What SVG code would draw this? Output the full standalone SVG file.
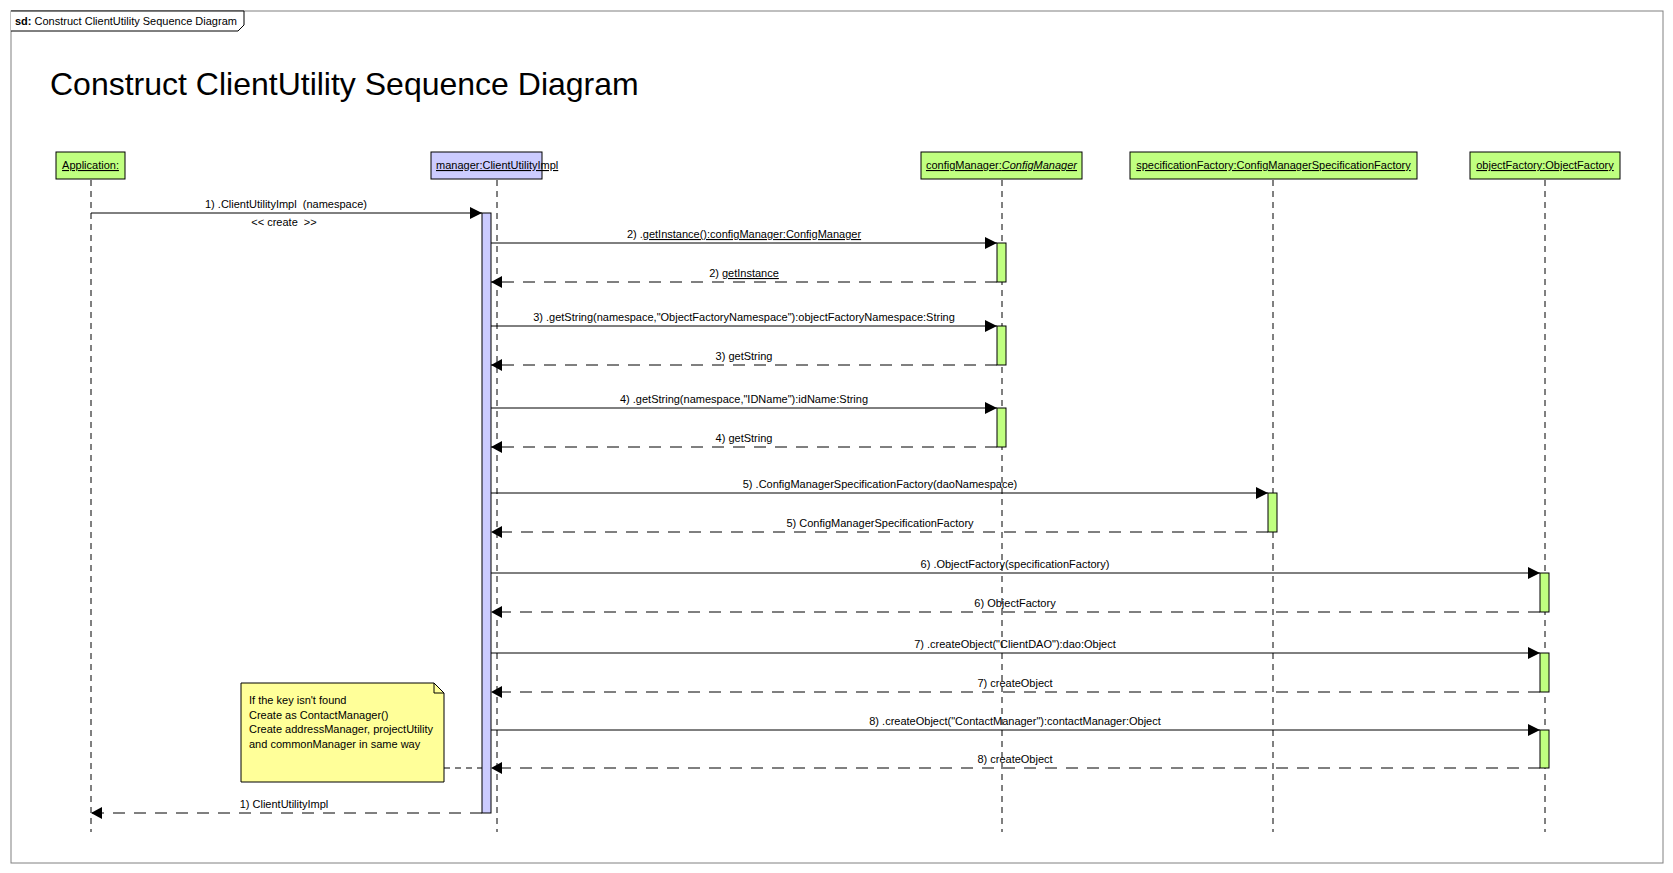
<svg xmlns="http://www.w3.org/2000/svg" width="1673" height="873" viewBox="0 0 1673 873">
<style>
text{font-family:"Liberation Sans",Arial,sans-serif;font-size:11px;fill:#000}
.title{font-size:32px}
.pre{white-space:pre}
.hdr{fill:#c0ff80;stroke:#000;stroke-width:1}
.hdrm{fill:#ccccff;stroke:#000;stroke-width:1}
.life{stroke:#000;stroke-width:1;stroke-dasharray:6,5;fill:none}
.act{fill:#c0ff80;stroke:#000;stroke-width:1}
.actm{fill:#ccccff;stroke:#000;stroke-width:1}
.call{stroke:#000;stroke-width:1;fill:none;marker-end:url(#ah)}
.ret{stroke:#000;stroke-width:1;fill:none;stroke-dasharray:12,9;marker-end:url(#rh)}
.u{text-decoration:underline}
.mid{text-anchor:middle}
</style>
<defs>
<marker id="ah" markerUnits="userSpaceOnUse" markerWidth="14" markerHeight="14" refX="12" refY="6" orient="auto">
<path d="M0,0 L12,6 L0,12 Z" fill="#000"/>
</marker>
<marker id="rh" markerUnits="userSpaceOnUse" markerWidth="14" markerHeight="14" refX="11" refY="6" orient="auto">
<path d="M0,0 L11,6 L0,12 Z" fill="#000"/>
<path d="M1,1 L1,11" stroke="#000" stroke-width="1.5"/>
</marker>
</defs>
<rect x="0" y="0" width="1673" height="873" fill="#fff"/>
<g id="frame">
<rect x="11" y="11" width="1652" height="852" fill="none" stroke="#808080" stroke-width="1"/>
<path d="M11,11 L244,11 L244,25 L238,31 L11,31" fill="#fff" stroke="#000" stroke-width="1"/>
<text x="15" y="25"><tspan font-weight="bold">sd:</tspan> Construct ClientUtility Sequence Diagram</text>
</g>
<text class="title" x="50" y="95">Construct ClientUtility Sequence Diagram</text>

<g id="lifelines">
<line class="life" x1="91" y1="180" x2="91" y2="832"/>
<line class="life" x1="497" y1="180" x2="497" y2="832"/>
<line class="life" x1="1002" y1="180" x2="1002" y2="832"/>
<line class="life" x1="1273" y1="180" x2="1273" y2="832"/>
<line class="life" x1="1545" y1="180" x2="1545" y2="832"/>
</g>

<g id="node-application">
<rect class="hdr" x="56" y="152" width="69" height="27"/>
<text class="u mid" x="90.5" y="169">Application:</text>
</g>
<g id="node-manager">
<rect class="hdrm" x="431" y="152" width="111" height="27"/>
<text class="u" x="436" y="169">manager:ClientUtilityImpl</text>
</g>
<g id="node-configManager">
<rect class="hdr" x="921" y="152" width="161" height="27"/>
<text class="u mid" x="1001.5" y="169">configManager:<tspan font-style="italic">ConfigManager</tspan></text>
</g>
<g id="node-specificationFactory">
<rect class="hdr" x="1130" y="152" width="287" height="27"/>
<text class="u mid" x="1273.5" y="169">specificationFactory:ConfigManagerSpecificationFactory</text>
</g>
<g id="node-objectFactory">
<rect class="hdr" x="1470" y="152" width="150" height="27"/>
<text class="u mid" x="1545" y="169">objectFactory:ObjectFactory</text>
</g>

<g id="activations">
<rect class="actm" x="482" y="213" width="9" height="600"/>
<rect class="act" x="997" y="243" width="9" height="39"/>
<rect class="act" x="997" y="326" width="9" height="39"/>
<rect class="act" x="997" y="408" width="9" height="39"/>
<rect class="act" x="1268" y="493" width="9" height="39"/>
<rect class="act" x="1540" y="573" width="9" height="39"/>
<rect class="act" x="1540" y="653" width="9" height="39"/>
<rect class="act" x="1540" y="730" width="9" height="38"/>
</g>

<g id="note">
<path d="M241,683 L434,683 L444,693 L444,782 L241,782 Z" fill="#ffff99" stroke="#000" stroke-width="1"/>
<path d="M434,683 L434,693 L444,693" fill="none" stroke="#000" stroke-width="1"/>
<text x="249" y="704">If the key isn't found</text>
<text x="249" y="718.5">Create as ContactManager()</text>
<text x="249" y="733">Create addressManager, projectUtility</text>
<text x="249" y="747.5">and commonManager in same way</text>
</g>

<g id="connectors">
<line x1="444" y1="768" x2="482" y2="768" stroke="#000" stroke-width="1" stroke-dasharray="6,5"/>
<line class="call" x1="91" y1="213" x2="482" y2="213"/>
<text class="mid pre" xml:space="preserve" x="286" y="208">1) .ClientUtilityImpl  (namespace)</text>
<text class="mid pre" xml:space="preserve" x="284" y="226">&lt;&lt; create  &gt;&gt;</text>

<line class="call" x1="491" y1="243" x2="997" y2="243"/>
<text class="mid" x="744" y="238">2) .<tspan class="u">getInstance():configManager:ConfigManager</tspan></text>
<line class="ret" x1="997" y1="282" x2="491" y2="282"/>
<text class="mid" x="744" y="277">2) <tspan class="u">getInstance</tspan></text>

<line class="call" x1="491" y1="326" x2="997" y2="326"/>
<text class="mid" x="744" y="321">3) .getString(namespace,"ObjectFactoryNamespace"):objectFactoryNamespace:String</text>
<line class="ret" x1="997" y1="365" x2="491" y2="365"/>
<text class="mid" x="744" y="360">3) getString</text>

<line class="call" x1="491" y1="408" x2="997" y2="408"/>
<text class="mid" x="744" y="403">4) .getString(namespace,"IDName"):idName:String</text>
<line class="ret" x1="997" y1="447" x2="491" y2="447"/>
<text class="mid" x="744" y="442">4) getString</text>

<line class="call" x1="491" y1="493" x2="1268" y2="493"/>
<text class="mid" x="880" y="488">5) .ConfigManagerSpecificationFactory(daoNamespace)</text>
<line class="ret" x1="1268" y1="532" x2="491" y2="532"/>
<text class="mid" x="880" y="527">5) ConfigManagerSpecificationFactory</text>

<line class="call" x1="491" y1="573" x2="1540" y2="573"/>
<text class="mid" x="1015" y="568">6) .ObjectFactory(specificationFactory)</text>
<line class="ret" x1="1540" y1="612" x2="491" y2="612"/>
<text class="mid" x="1015" y="607">6) ObjectFactory</text>

<line class="call" x1="491" y1="653" x2="1540" y2="653"/>
<text class="mid" x="1015" y="648">7) .createObject("ClientDAO"):dao:Object</text>
<line class="ret" x1="1540" y1="692" x2="491" y2="692"/>
<text class="mid" x="1015" y="687">7) createObject</text>

<line class="call" x1="491" y1="730" x2="1540" y2="730"/>
<text class="mid" x="1015" y="725">8) .createObject("ContactManager"):contactManager:Object</text>
<line class="ret" x1="1540" y1="768" x2="491" y2="768"/>
<text class="mid" x="1015" y="763">8) createObject</text>

<line class="ret" x1="482" y1="813" x2="91" y2="813"/>
<text class="mid" x="284" y="808">1) ClientUtilityImpl</text>
</g>
</svg>
